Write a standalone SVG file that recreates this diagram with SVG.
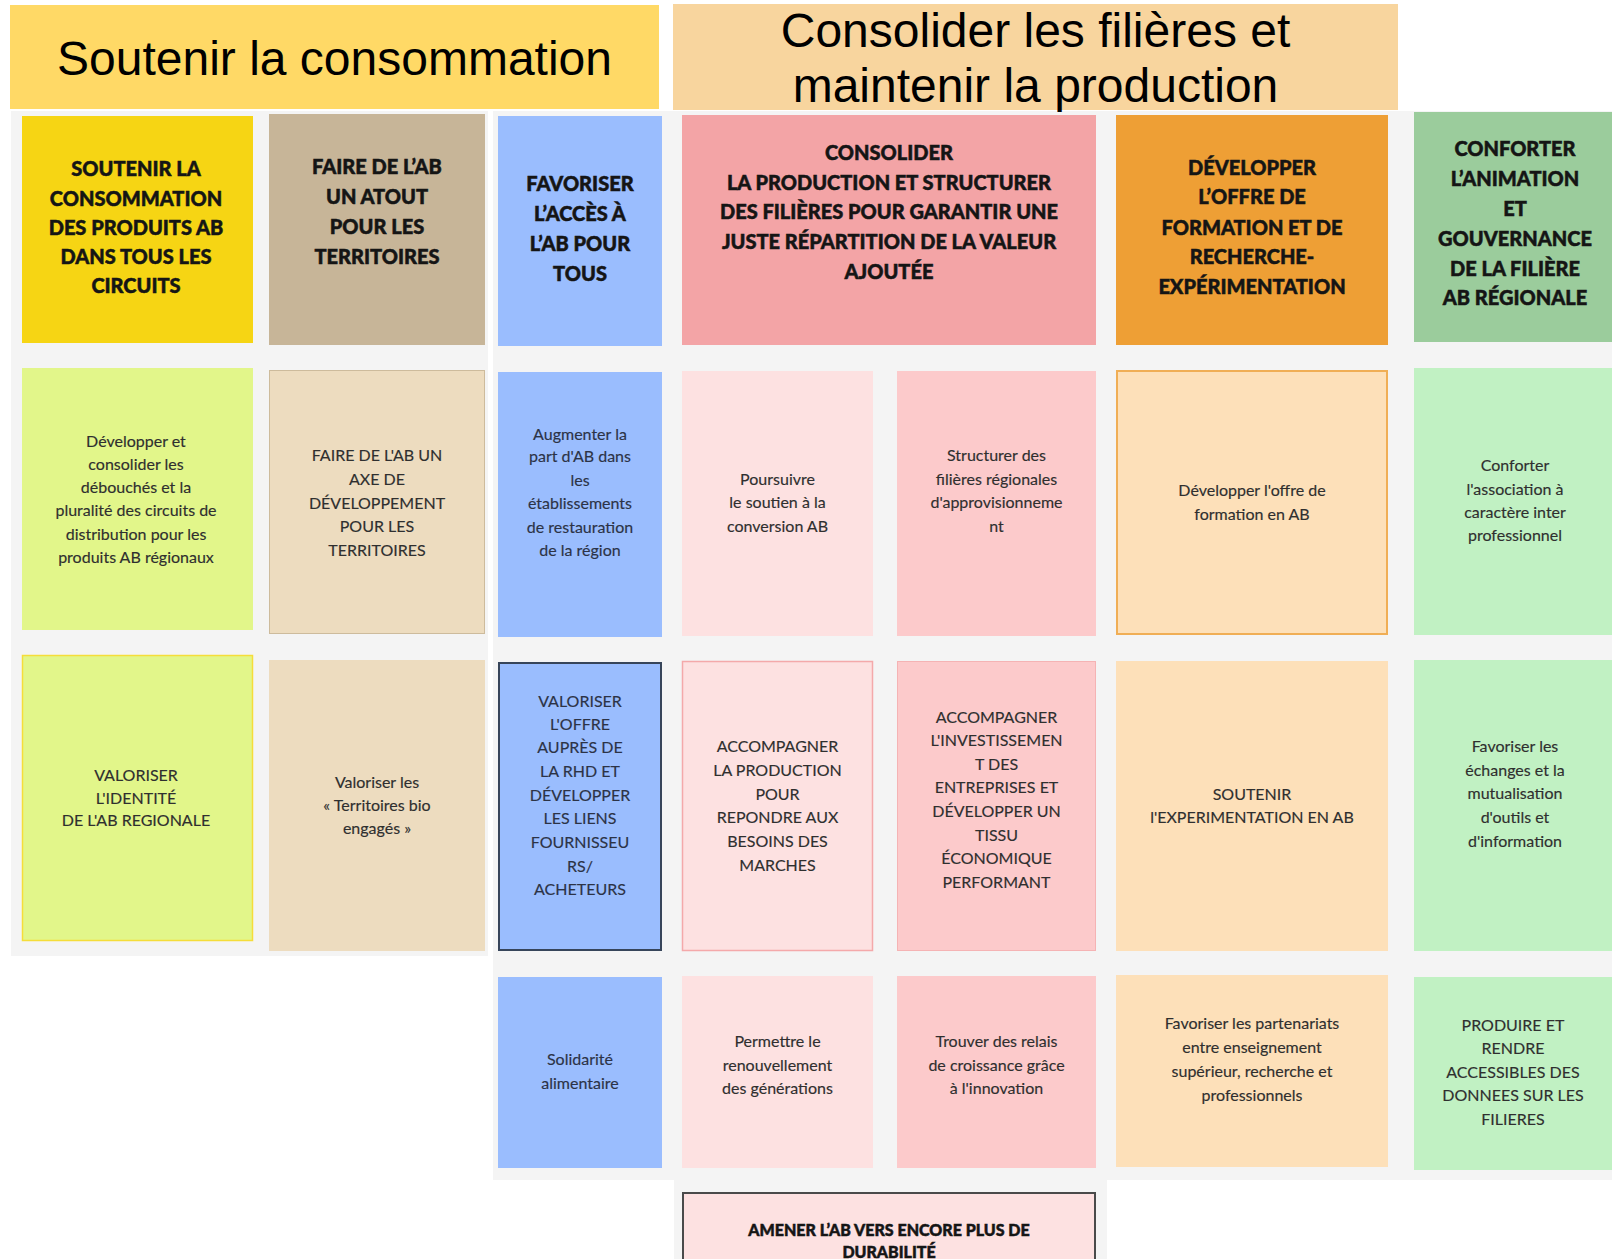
<svg xmlns="http://www.w3.org/2000/svg" width="1612" height="1259" viewBox="0 0 1612 1259">
<style>
.ttl{font-family:"Liberation Sans",Arial,sans-serif;font-size:48px;fill:#000;text-anchor:middle}
.hd{font-family:Lato,"Noto Sans",sans-serif;font-weight:900;font-size:20px;fill:#151515;stroke:#151515;stroke-width:0.5;text-anchor:middle}
.bd{font-family:Lato,"Noto Sans",sans-serif;font-size:16px;fill:#2f2f2f;stroke:#2f2f2f;stroke-width:0.15;text-anchor:middle}
.bb{fill:#2c3346;stroke:#2c3346}
.pan{fill:#F4F4F4}
</style>
<rect width="1612" height="1259" fill="#FFFFFF"/>
<g id="panels">
<rect class="pan" x="11" y="111" width="477" height="845"/>
<rect class="pan" x="493" y="111" width="1119" height="1069"/>
<rect class="pan" x="674" y="1180" width="433" height="79"/>
</g>
<g id="title-consommation">
<rect x="10" y="5" width="649" height="104" fill="#FFD966"/>
<text class="ttl" x="334.5" y="75">Soutenir la consommation</text>
</g>
<g id="title-filieres">
<rect x="673" y="4" width="725" height="106" fill="#F8D59E"/>
<text class="ttl" x="1035.5" y="47">Consolider les filières et</text>
<text class="ttl" x="1035.5" y="102">maintenir la production</text>
</g>

<g id="h1">
<rect x="22" y="116" width="231" height="227" fill="#F6D514"/>
<text class="hd" x="136" y="176">SOUTENIR LA</text>
<text class="hd" x="136" y="206">CONSOMMATION</text>
<text class="hd" x="136" y="235">DES PRODUITS AB</text>
<text class="hd" x="136" y="264">DANS TOUS LES</text>
<text class="hd" x="136" y="293">CIRCUITS</text>
</g>
<g id="h2">
<rect x="269" y="114" width="216" height="231" fill="#C7B598"/>
<text class="hd" x="377" y="174">FAIRE DE L’AB</text>
<text class="hd" x="377" y="204">UN ATOUT</text>
<text class="hd" x="377" y="234">POUR LES</text>
<text class="hd" x="377" y="264">TERRITOIRES</text>
</g>
<g id="h3">
<rect x="498" y="116" width="164" height="230" fill="#9ABDFE"/>
<text class="hd" x="580" y="191">FAVORISER</text>
<text class="hd" x="580" y="221">L’ACCÈS À</text>
<text class="hd" x="580" y="251">L’AB POUR</text>
<text class="hd" x="580" y="281">TOUS</text>
</g>
<g id="h4">
<rect x="682" y="115" width="414" height="230" fill="#F3A4A6"/>
<text class="hd" x="889" y="160">CONSOLIDER</text>
<text class="hd" x="889" y="190">LA PRODUCTION ET STRUCTURER</text>
<text class="hd" x="889" y="219">DES FILIÈRES POUR GARANTIR UNE</text>
<text class="hd" x="889" y="249">JUSTE RÉPARTITION DE LA VALEUR</text>
<text class="hd" x="889" y="279">AJOUTÉE</text>
</g>
<g id="h5">
<rect x="1116" y="115" width="272" height="230" fill="#EE9F35"/>
<text class="hd" x="1252" y="175">DÉVELOPPER</text>
<text class="hd" x="1252" y="204">L’OFFRE DE</text>
<text class="hd" x="1252" y="235">FORMATION ET DE</text>
<text class="hd" x="1252" y="264">RECHERCHE-</text>
<text class="hd" x="1252" y="294">EXPÉRIMENTATION</text>
</g>
<g id="h6">
<rect x="1414" y="112" width="200" height="230" fill="#9BCC9C"/>
<text class="hd" x="1515" y="156">CONFORTER</text>
<text class="hd" x="1515" y="186">L’ANIMATION</text>
<text class="hd" x="1515" y="216">ET</text>
<text class="hd" x="1515" y="246">GOUVERNANCE</text>
<text class="hd" x="1515" y="276">DE LA FILIÈRE</text>
<text class="hd" x="1515" y="305">AB RÉGIONALE</text>
</g>

<g id="c1r2">
<rect x="22" y="368" width="231" height="262" fill="#E2F68A"/>
<text class="bd" x="136" y="447">Développer et</text>
<text class="bd" x="136" y="470">consolider les</text>
<text class="bd" x="136" y="493">débouchés et la</text>
<text class="bd" x="136" y="516">pluralité des circuits de</text>
<text class="bd" x="136" y="540">distribution pour les</text>
<text class="bd" x="136" y="563">produits AB régionaux</text>
</g>
<g id="c1r3">
<rect x="22.5" y="655.5" width="230" height="285" fill="#E2F68A" stroke="#F5DD3A" stroke-width="1.5"/>
<text class="bd" x="136" y="781">VALORISER</text>
<text class="bd" x="136" y="804">L'IDENTITÉ</text>
<text class="bd" x="136" y="826">DE L'AB REGIONALE</text>
</g>
<g id="c2r2">
<rect x="269.5" y="370.5" width="215" height="263" fill="#EDDCBF" stroke="#CDBB9C" stroke-width="1"/>
<text class="bd" x="377" y="461">FAIRE DE L'AB UN</text>
<text class="bd" x="377" y="485">AXE DE</text>
<text class="bd" x="377" y="509">DÉVELOPPEMENT</text>
<text class="bd" x="377" y="532">POUR LES</text>
<text class="bd" x="377" y="556">TERRITOIRES</text>
</g>
<g id="c2r3">
<rect x="269" y="660" width="216" height="291" fill="#EDDCBF"/>
<text class="bd" x="377" y="788">Valoriser les</text>
<text class="bd" x="377" y="811">« Territoires bio</text>
<text class="bd" x="377" y="834">engagés »</text>
</g>
<g id="c3r2">
<rect x="498" y="372" width="164" height="265" fill="#9ABDFE"/>
<text class="bd bb" x="580" y="440">Augmenter la</text>
<text class="bd bb" x="580" y="462">part d'AB dans</text>
<text class="bd bb" x="580" y="486">les</text>
<text class="bd bb" x="580" y="509">établissements</text>
<text class="bd bb" x="580" y="533">de restauration</text>
<text class="bd bb" x="580" y="556">de la région</text>
</g>
<g id="c3r3">
<rect x="499" y="663" width="162" height="287" fill="#9ABDFE" stroke="#37455A" stroke-width="2"/>
<text class="bd bb" x="580" y="707">VALORISER</text>
<text class="bd bb" x="580" y="730">L'OFFRE</text>
<text class="bd bb" x="580" y="753">AUPRÈS DE</text>
<text class="bd bb" x="580" y="777">LA RHD ET</text>
<text class="bd bb" x="580" y="801">DÉVELOPPER</text>
<text class="bd bb" x="580" y="824">LES LIENS</text>
<text class="bd bb" x="580" y="848">FOURNISSEU</text>
<text class="bd bb" x="580" y="872">RS/</text>
<text class="bd bb" x="580" y="895">ACHETEURS</text>
</g>
<g id="c3r4">
<rect x="498" y="977" width="164" height="191" fill="#9ABDFE"/>
<text class="bd bb" x="580" y="1065">Solidarité</text>
<text class="bd bb" x="580" y="1089">alimentaire</text>
</g>
<g id="c4ar2">
<rect x="682" y="371" width="191" height="265" fill="#FDE1E1"/>
<text class="bd" x="777.5" y="485">Poursuivre</text>
<text class="bd" x="777.5" y="508">le soutien à la</text>
<text class="bd" x="777.5" y="532">conversion AB</text>
</g>
<g id="c4ar3">
<rect x="682.5" y="661.5" width="190" height="289" fill="#FDE1E1" stroke="#F4A9AA" stroke-width="1.5"/>
<text class="bd" x="777.5" y="752">ACCOMPAGNER</text>
<text class="bd" x="777.5" y="776">LA PRODUCTION</text>
<text class="bd" x="777.5" y="800">POUR</text>
<text class="bd" x="777.5" y="823">REPONDRE AUX</text>
<text class="bd" x="777.5" y="847">BESOINS DES</text>
<text class="bd" x="777.5" y="871">MARCHES</text>
</g>
<g id="c4ar4">
<rect x="682" y="976" width="191" height="192" fill="#FDE1E1"/>
<text class="bd" x="777.5" y="1047">Permettre le</text>
<text class="bd" x="777.5" y="1071">renouvellement</text>
<text class="bd" x="777.5" y="1094">des générations</text>
</g>
<g id="c4br2">
<rect x="897" y="371" width="199" height="265" fill="#FCCACB"/>
<text class="bd" x="996.5" y="461">Structurer des</text>
<text class="bd" x="996.5" y="485">filières régionales</text>
<text class="bd" x="996.5" y="508">d'approvisionneme</text>
<text class="bd" x="996.5" y="532">nt</text>
</g>
<g id="c4br3">
<rect x="897.5" y="661.5" width="198" height="289" fill="#FCCACB" stroke="#F5B3B4" stroke-width="1"/>
<text class="bd" x="996.5" y="723">ACCOMPAGNER</text>
<text class="bd" x="996.5" y="746">L'INVESTISSEMEN</text>
<text class="bd" x="996.5" y="770">T DES</text>
<text class="bd" x="996.5" y="793">ENTREPRISES ET</text>
<text class="bd" x="996.5" y="817">DÉVELOPPER UN</text>
<text class="bd" x="996.5" y="841">TISSU</text>
<text class="bd" x="996.5" y="864">ÉCONOMIQUE</text>
<text class="bd" x="996.5" y="888">PERFORMANT</text>
</g>
<g id="c4br4">
<rect x="897" y="976" width="199" height="192" fill="#FCCACB"/>
<text class="bd" x="996.5" y="1047">Trouver des relais</text>
<text class="bd" x="996.5" y="1071">de croissance grâce</text>
<text class="bd" x="996.5" y="1094">à l'innovation</text>
</g>
<g id="c5r2">
<rect x="1117" y="371" width="270" height="263" fill="#FDE0B9" stroke="#F0AE55" stroke-width="2"/>
<text class="bd" x="1252" y="496">Développer l'offre de</text>
<text class="bd" x="1252" y="520">formation en AB</text>
</g>
<g id="c5r3">
<rect x="1116" y="661" width="272" height="290" fill="#FDE0B9"/>
<text class="bd" x="1252" y="800">SOUTENIR</text>
<text class="bd" x="1252" y="823">l'EXPERIMENTATION EN AB</text>
</g>
<g id="c5r4">
<rect x="1116" y="975" width="272" height="192" fill="#FDE0B9"/>
<text class="bd" x="1252" y="1029">Favoriser les partenariats</text>
<text class="bd" x="1252" y="1053">entre enseignement</text>
<text class="bd" x="1252" y="1077">supérieur, recherche et</text>
<text class="bd" x="1252" y="1101">professionnels</text>
</g>
<g id="c6r2">
<rect x="1414" y="368" width="200" height="267" fill="#C1F1C3"/>
<text class="bd" x="1515" y="471">Conforter</text>
<text class="bd" x="1515" y="495">l'association à</text>
<text class="bd" x="1515" y="518">caractère inter</text>
<text class="bd" x="1515" y="541">professionnel</text>
</g>
<g id="c6r3">
<rect x="1414" y="660" width="200" height="291" fill="#C1F1C3"/>
<text class="bd" x="1515" y="752">Favoriser les</text>
<text class="bd" x="1515" y="776">échanges et la</text>
<text class="bd" x="1515" y="799">mutualisation</text>
<text class="bd" x="1515" y="823">d'outils et</text>
<text class="bd" x="1515" y="847">d'information</text>
</g>
<g id="c6r4">
<rect x="1414" y="977" width="200" height="193" fill="#C1F1C3"/>
<text class="bd" x="1513" y="1031">PRODUIRE ET</text>
<text class="bd" x="1513" y="1054">RENDRE</text>
<text class="bd" x="1513" y="1078">ACCESSIBLES DES</text>
<text class="bd" x="1513" y="1101">DONNEES SUR LES</text>
<text class="bd" x="1513" y="1125">FILIERES</text>
</g>
<g id="durabilite">
<rect x="683" y="1193" width="412" height="90" fill="#FDE1E1" stroke="#4A4A4A" stroke-width="2"/>
<text class="hd" x="889" y="1236" style="font-size:16px">AMENER L’AB VERS ENCORE PLUS DE</text>
<text class="hd" x="889" y="1258" style="font-size:16px">DURABILITÉ</text>
</g>
<g id="connectors"></g>
</svg>
